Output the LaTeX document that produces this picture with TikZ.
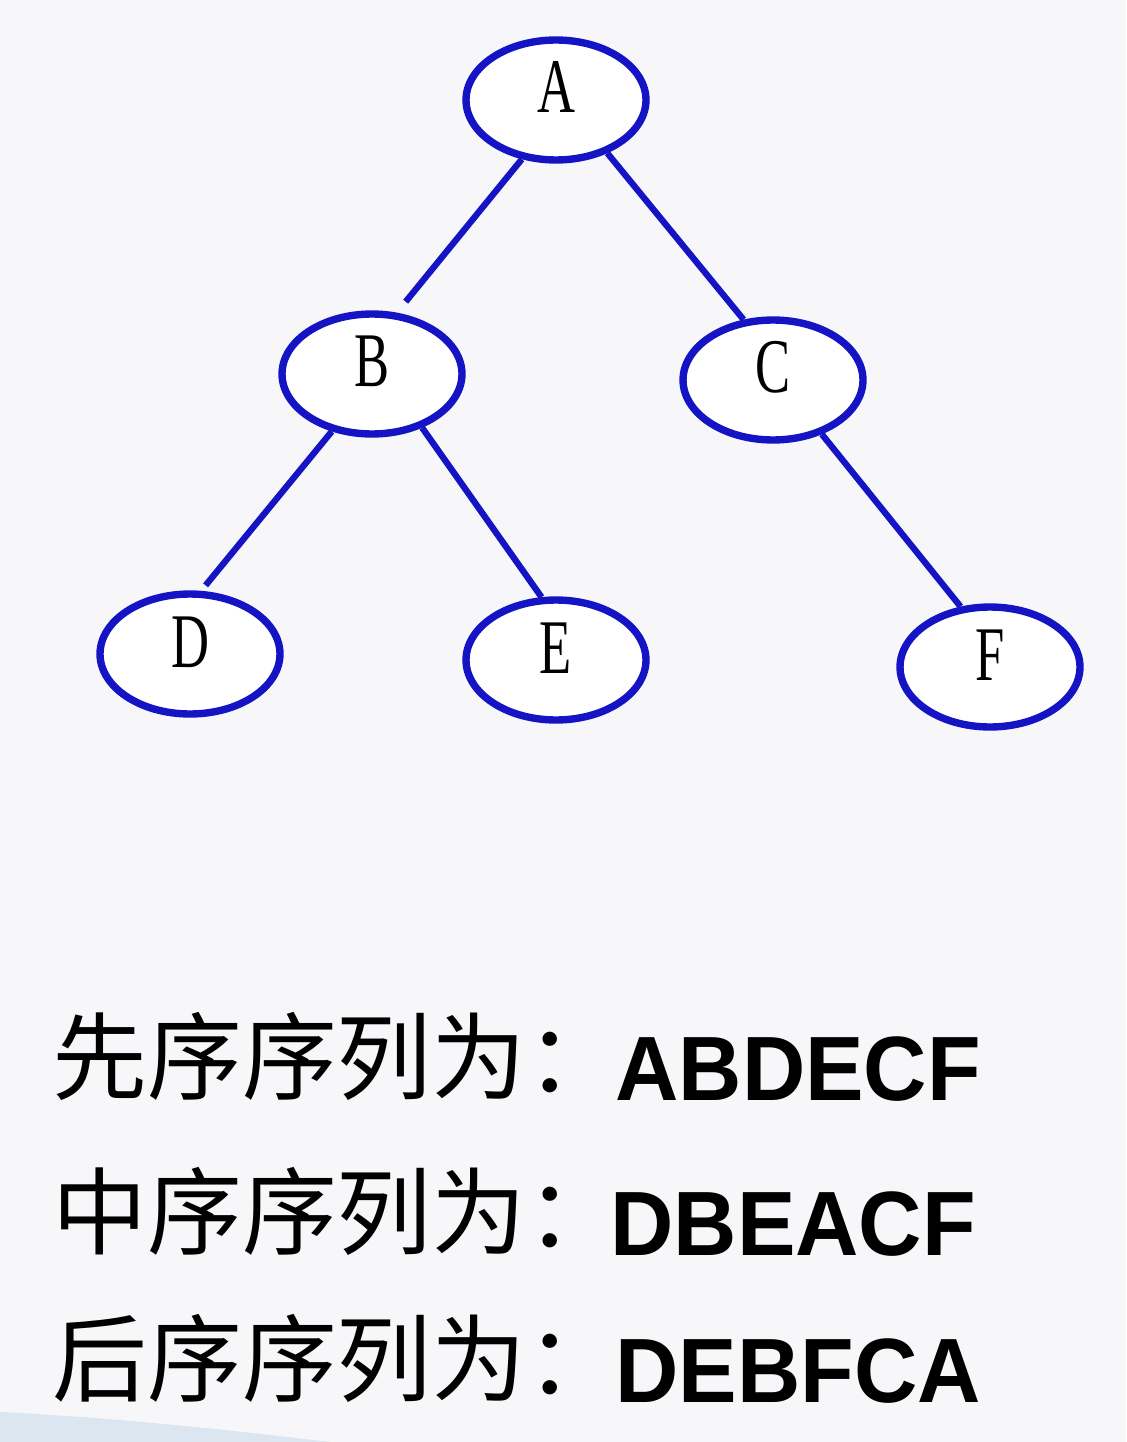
\documentclass[tikz,border=0pt]{standalone}
\usepackage{fontspec}
\setmainfont{Liberation Serif}
\newfontfamily\cjkfont{Noto Sans CJK SC}
\newfontfamily\seqfont{Liberation Sans}
\usetikzlibrary{shapes.geometric}

\newcommand{\treelabel}[1]{\scalebox{0.68}[1]{#1}}

\begin{document}
\begin{tikzpicture}[x=0.02cm, y=-0.02cm]
    % Define colours
    \definecolor{nodeColour}{HTML}{1414C4}
    \definecolor{paperColour}{HTML}{F7F7F9}
    \definecolor{swooshColour}{HTML}{C9DCEA}

    % Define styles
    \tikzset{
        treenode/.style={ellipse, draw=nodeColour, line width=4.2pt, fill=white,
            minimum width=3.6cm, minimum height=2.4cm, inner sep=0pt,
            text height=1cm, text depth=0.48cm,
            font=\fontsize{44}{50}\selectfont},
        treeedge/.style={draw=nodeColour, line width=3.6pt},
        cnlabel/.style={anchor=base west, inner sep=0pt,
            font=\cjkfont\fontsize{54}{60}\selectfont},
        seqlabel/.style={anchor=base west, inner sep=0pt,
            font=\seqfont\bfseries\fontsize{52}{60}\selectfont}
    }

    % Background
    \fill[paperColour] (0,0) rectangle (1126,1442);
    \useasboundingbox (0,0) rectangle (1126,1442);
    \fill[swooshColour, opacity=0.6] (0,1412) .. controls (120,1418) and (230,1430) .. (330,1442) -- (0,1442) -- cycle;

    % Draw nodes
    \node[treenode] (A) at (556,100) {\treelabel{A}};
    \node[treenode] (B) at (372,374) {\treelabel{B}};
    \node[treenode] (C) at (773,380) {\treelabel{C}};
    \node[treenode] (D) at (190,654) {\treelabel{D}};
    \node[treenode] (E) at (556,660) {\treelabel{E}};
    \node[treenode] (F) at (990,667) {\treelabel{F}};

    % Draw edges
    \draw[treeedge, shorten >=8pt] (A.240) -- (B.68);
    \draw[treeedge] (A.314) -- (C.116);
    \draw[treeedge, shorten >=4pt] (B.235) -- (D.80);
    \draw[treeedge] (B.313) -- (E.103);
    \draw[treeedge] (C.312) -- (F.116);

    % Traversal sequences
    \node[cnlabel] (pre) at (52,1092) {先序序列为：};
    \node[seqlabel] (preseq) at (615,1100) {\scalebox{0.96}[1]{ABDECF}};
    \node[cnlabel] (in) at (52,1247) {中序序列为：};
    \node[seqlabel] (inseq) at (610,1255) {\scalebox{0.96}[1]{DBEACF}};
    \node[cnlabel] (post) at (52,1394) {后序序列为：};
    \node[seqlabel] (postseq) at (615,1402) {\scalebox{0.96}[1]{DEBFCA}};
\end{tikzpicture}
\end{document}
